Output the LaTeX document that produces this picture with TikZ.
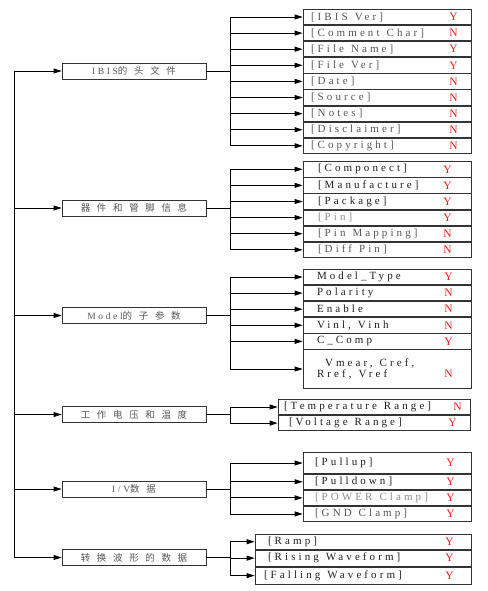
\documentclass[tikz,border=0pt]{standalone}
\usepackage{fontspec}
\setmainfont{Liberation Serif}
\newfontfamily\lat[LetterSpace=28]{Liberation Serif}
\newfontfamily\cjk[LetterSpace=70]{Noto Sans CJK SC}
\newcommand\wsp{\hspace{7pt}}
\usetikzlibrary{arrows.meta,positioning}
\definecolor{Ink}{HTML}{1E1E1E}
\definecolor{Mid}{HTML}{555555}
\definecolor{Pale}{HTML}{8C8C8C}
\definecolor{Frame}{HTML}{333333}
\definecolor{Flag}{HTML}{FF1A1A}
\tikzset{
  grp/.style={draw=Frame,line width=.8pt,minimum width=144pt,minimum height=16pt,inner sep=0pt,text=Mid,font=\fontsize{9.5}{11}\selectfont},
  item/.style={draw=Frame,line width=.8pt,minimum height=15.3pt,inner ysep=0pt,align=left,text=Ink,font=\lat\fontsize{11}{11.5}\selectfont},
  flag/.style={text=Flag,inner sep=0pt,font=\fontsize{11.5}{13}\selectfont},
  wire/.style={draw=black,line width=.8pt},
  arr/.style={wire,-{Triangle[length=8pt,width=5pt]}},
}
\begin{document}
\begin{tikzpicture}[x=1pt,y=-1pt]
  \useasboundingbox (0,0) rectangle (487,591);
  % main groups
  \node[grp] (g1) at (134,71) {{\lat IBIS}{\cjk 的头文件}};
  \node[grp] (g2) at (134,208) {\cjk 器件和管脚信息};
  \node[grp] (g3) at (134,315.5) {{\lat Model}{\cjk 的子参数}};
  \node[grp] (g4) at (134,414.5) {\cjk 工作电压和温度};
  \node[grp] (g5) at (134,489) {{\lat I/V}{\cjk 数据}};
  \node[grp] (g6) at (134,557.5) {\cjk 转换波形的数据};
  \coordinate (top) at (14,71);
  \coordinate (bus) at (230,71);
  \draw[wire] (top) -- (top |- g6.west);
  \foreach \g in {g1,g2,g3,g4,g5,g6}
    \draw[arr] (top |- \g.west) -- (\g.west);

  % header keywords
  \begin{scope}[item/.append style={text width=152pt,inner xsep=8pt,text=Mid}]
    \node[item] (h1) at (387,17) {[IBIS\wsp Ver]};
    \node[item,below=0pt of h1] (h2) {[Comment\wsp Char]};
    \node[item,below=0pt of h2] (h3) {[File\wsp Name]};
    \node[item,below=0pt of h3] (h4) {[File\wsp Ver]};
    \node[item,below=0pt of h4] (h5) {[Date]};
    \node[item,below=0pt of h5] (h6) {[Source]};
    \node[item,below=0pt of h6] (h7) {[Notes]};
    \node[item,below=0pt of h7] (h8) {[Disclaimer]};
    \node[item,below=0pt of h8] (h9) {[Copyright]};
  \end{scope}
  \foreach \r/\f in {h1/Y,h2/N,h3/Y,h4/Y,h5/N,h6/N,h7/N,h8/N,h9/N}
    \node[flag] (f\r) at ([xshift=-18pt]\r.east) {\f};
  \draw[wire] (g1.east) -- (g1.east -| bus);
  \draw[wire] (h1.west -| bus) -- (h9.west -| bus);
  \foreach \r in {h1,h2,h3,h4,h5,h6,h7,h8,h9}
    \draw[arr] (\r.west -| bus) -- (\r.west);

  % component and pins
  \begin{scope}[item/.append style={text width=138pt,inner xsep=15pt}]
    \node[item] (c1) at (387,169.3) {[Componect]};
    \node[item,below=0pt of c1] (c2) {[Manufacture]};
    \node[item,below=0pt of c2] (c3) {[Package]};
    \node[item,below=0pt of c3,text=Pale] (c4) {[Pin]};
    \node[item,below=0pt of c4,text=Mid] (c5) {[Pin\wsp Mapping]};
    \node[item,below=0pt of c5,text=Mid] (c6) {[Diff\wsp Pin]};
  \end{scope}
  \foreach \r/\f in {c1/Y,c2/Y,c3/Y,c4/Y,c5/N,c6/N}
    \node[flag] (f\r) at ([xshift=-24pt]\r.east) {\f};
  \draw[wire] (g2.east) -- (g2.east -| bus);
  \draw[wire] (c1.west -| bus) -- (c6.west -| bus);
  \foreach \r in {c1,c2,c3,c4,c5,c6}
    \draw[arr] (\r.west -| bus) -- (\r.west);

  % model subparameters
  \begin{scope}[item/.append style={text width=140pt,inner xsep=14pt}]
    \node[item] (m1) at (387,277) {Model\_Type};
    \node[item,below=0pt of m1] (m2) {Polarity};
    \node[item,below=0pt of m2] (m3) {Enable};
    \node[item,below=0pt of m3] (m4) {Vinl,\wsp Vinh};
    \node[item,below=0pt of m4] (m5) {C\_Comp};
    \node[item,below=0pt of m5,minimum height=38.3pt] (m6) {\hspace*{8pt}Vmear,\wsp Cref,\\Rref,\wsp Vref};
  \end{scope}
  \foreach \r/\f in {m1/Y,m2/N,m3/N,m4/N,m5/Y}
    \node[flag] (f\r) at ([xshift=-23pt]\r.east) {\f};
  \node[flag] (fm6) at ([xshift=-23pt,yshift=-5pt]m6.east) {N};
  \draw[wire] (g3.east) -- (g3.east -| bus);
  \draw[wire] (m1.west -| bus) -- (m6.west -| bus);
  \foreach \r in {m1,m2,m3,m4,m5,m6}
    \draw[arr] (\r.west -| bus) -- (\r.west);

  % ranges
  \begin{scope}[item/.append style={text width=180pt,inner xsep=6pt}]
    \node[item] (t1) at (374,407) {[Temperature\wsp Range]};
    \node[item,below=0pt of t1] (t2) {\hspace*{5pt}[Voltage\wsp Range]};
  \end{scope}
  \node[flag] (ft1) at ([xshift=-13pt]t1.east) {N};
  \node[flag] (ft2) at ([xshift=-18pt]t2.east) {Y};
  \draw[wire] (g4.east) -- (g4.east -| bus);
  \draw[wire] (t1.west -| bus) -- (t2.west -| bus);
  \foreach \r in {t1,t2}
    \draw[arr] (\r.west -| bus) -- (\r.west);

  % I/V tables
  \begin{scope}[item/.append style={text width=144pt,inner xsep=12pt}]
    \node[item,minimum height=20.6pt] (v1) at (387,463) {[Pullup]};
    \node[item,below=0pt of v1] (v2) {[Pulldown]};
    \node[item,below=0pt of v2,text=Pale] (v3) {[POWER\wsp Clamp]};
    \node[item,below=0pt of v3,text=Mid] (v4) {[GND\wsp Clamp]};
  \end{scope}
  \foreach \r in {v1,v2,v3,v4}
    \node[flag] (f\r) at ([xshift=-21pt]\r.east) {Y};
  \draw[wire] (g5.east) -- (g5.east -| bus);
  \draw[wire] (v1.west -| bus) -- (v4.west -| bus);
  \foreach \r in {v1,v2,v3,v4}
    \draw[arr] (\r.west -| bus) -- (\r.west);

  % waveforms
  \begin{scope}[item/.append style={text width=198pt,inner xsep=9pt}]
    \node[item] (w1) at (363,541.7) {\hspace*{4pt}[Ramp]};
    \node[item,below=0pt of w1,minimum height=16pt] (w2) {\hspace*{4pt}[Rising\wsp Waveform]};
    \node[item,below=0pt of w2,minimum height=17.4pt] (w3) {[Falling\wsp Waveform]};
  \end{scope}
  \foreach \r in {w1,w2,w3}
    \node[flag] (f\r) at ([xshift=-22pt]\r.east) {Y};
  \draw[wire] (g6.east) -- (g6.east -| bus);
  \draw[wire] (w1.west -| bus) -- (w3.west -| bus);
  \foreach \r in {w1,w2,w3}
    \draw[arr] (\r.west -| bus) -- (\r.west);
\end{tikzpicture}
\end{document}
